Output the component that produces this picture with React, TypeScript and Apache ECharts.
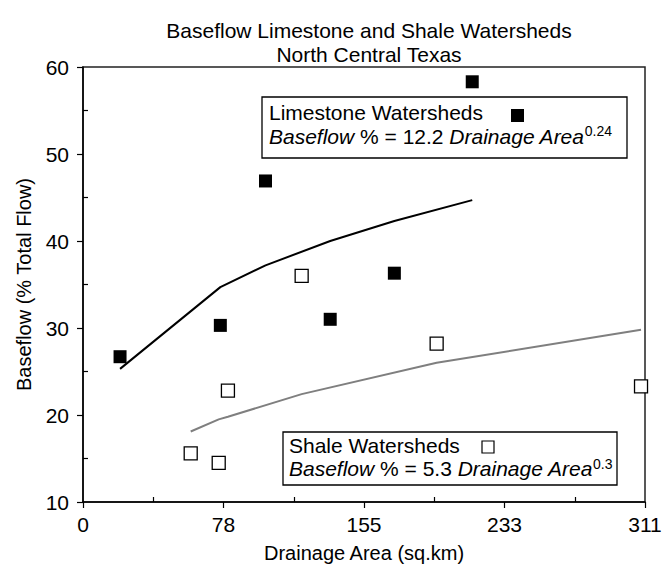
import React, { useEffect, useRef } from "react";
import * as echarts from "echarts";

const FONT = "Liberation Sans";

const xTickLabels = ["0", "78", "155", "233", "311"];

// Limestone watersheds: [drainage area, baseflow %]
const limestonePoints: number[][] = [
  [20.5, 26.7],
  [76.0, 30.3],
  [101.0, 46.9],
  [136.8, 31.0],
  [172.3, 36.3],
  [215.4, 58.3],
];
// Limestone fitted curve
const limestoneFit: number[][] = [
  [20.5, 25.3],
  [76.0, 34.7],
  [101.0, 37.2],
  [136.8, 40.0],
  [172.3, 42.3],
  [215.4, 44.7],
];

// Shale watersheds
const shalePoints: number[][] = [
  [59.6, 15.6],
  [75.1, 14.5],
  [80.2, 22.8],
  [121.0, 36.0],
  [195.7, 28.2],
  [308.8, 23.3],
];
const shaleFit: number[][] = [
  [59.6, 18.1],
  [75.1, 19.5],
  [80.2, 19.8],
  [121.0, 22.4],
  [195.7, 26.0],
  [308.8, 29.8],
];

export default function App() {
  const ref = useRef<HTMLDivElement>(null);
  useEffect(() => {
    if (!ref.current) return;
    const chart = echarts.init(ref.current, null, { renderer: "svg" });
    const rich = {
      n: { fontSize: 21, fontFamily: FONT, lineHeight: 24, color: "#000" },
      i: { fontSize: 21, fontFamily: FONT, fontStyle: "italic", lineHeight: 24, color: "#000" },
      s: { fontSize: 14, fontFamily: FONT, lineHeight: 24, verticalAlign: "top", color: "#000" },
    };
    chart.setOption({
      animation: false,
      title: {
        text: "Baseflow Limestone and Shale Watersheds\nNorth Central Texas",
        left: 364,
        top: 14,
        textAlign: "center",
        textStyle: { fontFamily: FONT, fontSize: 21, fontWeight: "normal", lineHeight: 23.5, color: "#000" },
      },
      grid: {
        left: 83,
        right: 17,
        top: 67,
        bottom: 64,
        outerBoundsMode: "none",
        containLabel: false,
        show: true,
        borderColor: "#222",
        borderWidth: 1.5,
        backgroundColor: "transparent",
      },
      xAxis: {
        type: "value",
        min: 0,
        max: 311,
        interval: 77.75,
        name: "Drainage Area (sq.km)",
        nameLocation: "middle",
        nameGap: 41,
        nameTextStyle: { fontFamily: FONT, fontSize: 20, color: "#000" },
        axisLine: { lineStyle: { color: "#000", width: 1.5 } },
        axisTick: { show: true, length: 6, lineStyle: { color: "#000", width: 1.2 } },
        minorTick: { show: true, splitNumber: 2, length: -5, lineStyle: { color: "#000", width: 1.2 } },
        splitLine: { show: false },
        axisLabel: {
          fontFamily: FONT,
          fontSize: 21,
          color: "#000",
          margin: 12,
          formatter: (v: number) => xTickLabels[Math.round(v / 77.75)] ?? "",
        },
      },
      yAxis: {
        type: "value",
        min: 10,
        max: 60,
        interval: 10,
        name: "Baseflow (% Total Flow)",
        nameLocation: "middle",
        nameGap: 49,
        nameTextStyle: { fontFamily: FONT, fontSize: 20, color: "#000" },
        axisLine: { lineStyle: { color: "#000", width: 1.5 } },
        axisTick: { show: true, length: 6, lineStyle: { color: "#000", width: 1.2 } },
        minorTick: { show: true, splitNumber: 2, length: -5, lineStyle: { color: "#000", width: 1.2 } },
        splitLine: { show: false },
        axisLabel: { fontFamily: FONT, fontSize: 21, color: "#000", margin: 14 },
      },
      series: [
        {
          type: "line",
          data: limestoneFit,
          symbol: "none",
          lineStyle: { color: "#000", width: 2 },
          z: 2,
        },
        {
          type: "line",
          data: shaleFit,
          symbol: "none",
          lineStyle: { color: "#7f7f7f", width: 2 },
          z: 2,
        },
        {
          type: "scatter",
          data: limestonePoints,
          symbol: "rect",
          symbolSize: 13,
          itemStyle: { color: "#000", opacity: 1 },
          z: 3,
        },
        {
          type: "scatter",
          data: shalePoints,
          symbol: "rect",
          symbolSize: 13,
          itemStyle: { color: "#fff", borderColor: "#000", borderWidth: 1.3, opacity: 1 },
          z: 3,
        },
      ],
      graphic: [
        {
          type: "rect",
          shape: { x: 262, y: 97, width: 365, height: 61 },
          style: { fill: "#fff", stroke: "#000", lineWidth: 1.3 },
          z: 10,
        },
        {
          type: "text",
          x: 269,
          y: 100,
          style: {
            text: "{n|Limestone Watersheds}\n{i|Baseflow}{n| % = 12.2 }{i|Drainage Area}{s|0.24}",
            rich,
          },
          z: 11,
        },
        {
          type: "rect",
          shape: { x: 511, y: 109, width: 13, height: 13 },
          style: { fill: "#000" },
          z: 11,
        },
        {
          type: "rect",
          shape: { x: 283, y: 432, width: 334, height: 53 },
          style: { fill: "#fff", stroke: "#000", lineWidth: 1.3 },
          z: 10,
        },
        {
          type: "text",
          x: 289,
          y: 434,
          style: {
            text: "{n|Shale Watersheds}\n{i|Baseflow}{n| % = 5.3 }{i|Drainage Area}{s|0.3}",
            rich: {
              n: { ...rich.n, lineHeight: 23 },
              i: { ...rich.i, lineHeight: 23 },
              s: { ...rich.s, lineHeight: 23 },
            },
          },
          z: 11,
        },
        {
          type: "rect",
          shape: { x: 482, y: 441, width: 12, height: 12 },
          style: { fill: "#fff", stroke: "#000", lineWidth: 1.2 },
          z: 11,
        },
      ],
    });
    return () => chart.dispose();
  }, []);
  return (
    <div
      ref={ref}
      style={{ position: "absolute", left: 0, top: 0, width: 662, height: 566 }}
    />
  );
}
